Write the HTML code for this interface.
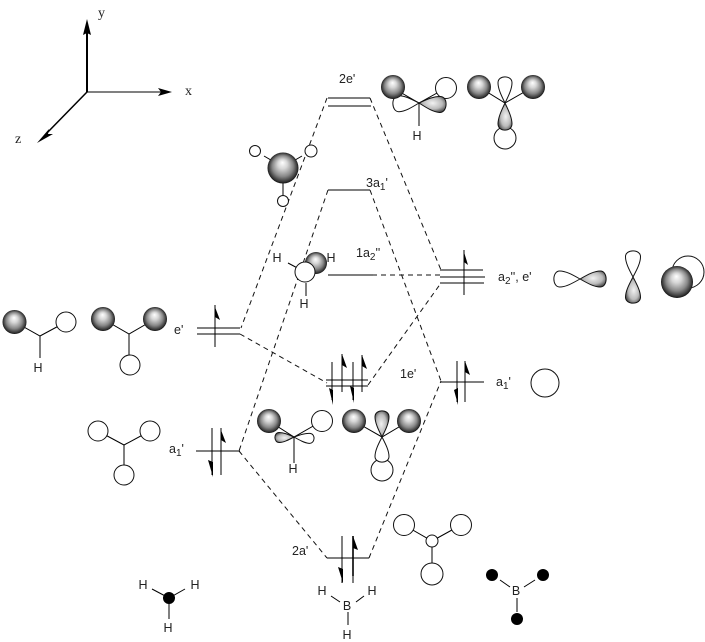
<!DOCTYPE html>
<html><head><meta charset="utf-8"><style>
html,body{margin:0;padding:0;background:#fff}
svg{display:block}
text{font-family:"Liberation Sans",sans-serif;font-size:12.5px;fill:#222}
.s{font-family:"Liberation Serif",serif;font-size:14px}
</style></head><body>
<svg width="705" height="642" viewBox="0 0 705 642" xmlns="http://www.w3.org/2000/svg">
<defs>
<radialGradient id="sp" cx=".5" cy=".5" r=".52" fx=".48" fy=".32"><stop offset="0" stop-color="#fff"/><stop offset=".3" stop-color="#d6d6d6"/><stop offset=".65" stop-color="#888"/><stop offset=".9" stop-color="#333"/><stop offset="1" stop-color="#000"/></radialGradient>
<radialGradient id="lg" cx=".5" cy=".45" r=".6"><stop offset="0" stop-color="#f2f2f2"/><stop offset=".6" stop-color="#bbb"/><stop offset="1" stop-color="#444"/></radialGradient>
<path id="lw" vector-effect="non-scaling-stroke" fill="#fff" stroke="#111" d="M0 0C.3-.55.55-1 .78-1 1.08-1 1.08 1 .78 1 .55 1 .3.55 0 0Z"/>
<path id="ls" vector-effect="non-scaling-stroke" fill="url(#lg)" stroke="#111" d="M0 0C.3-.55.55-1 .78-1 1.08-1 1.08 1 .78 1 .55 1 .3.55 0 0Z"/>
</defs>

<!-- axes -->
<g stroke="#000" fill="none">
<path d="M87 92V28" stroke-width="2"/>
<path d="M87 92H165"/>
<path d="M87 92L45 135" stroke-width="1.5"/>
</g>
<path d="M87 19L91 35 87 33 83 35Z M172 92L158 88 161 92 158 96Z M37 143L49 129 48 134 53 134Z" fill="#000"/>
<text class="s" x="98" y="17">y</text><text class="s" x="185" y="95">x</text><text class="s" x="15" y="143">z</text>

<!-- dashed connectors -->
<g stroke="#111" fill="none" stroke-dasharray="5 4">
<path d="M327 98L241 328"/>
<path d="M370 98L441 270"/>
<path d="M328 190L239 451"/>
<path d="M370 190L441 381"/>
<path d="M372 275H440"/>
<path d="M240 334L327 383"/>
<path d="M368 385L441 283"/>
<path d="M239 451L327 558"/>
<path d="M369 558L441 381"/>
</g>

<!-- levels -->
<g stroke="#000" fill="none">
<path d="M328 98H370M328 106H371"/>
<path d="M328 190H370"/>
<path d="M328 275H373"/>
<path d="M440 270H483M440 277H485M440 283H484M464 250V295"/>
<path d="M197 328H240M197 334H240M215 305V347"/>
<path d="M326 380H368M326 386H368M332 362V400M342 354V392M353 362V400M362 355V392"/>
<path d="M441 382H484M457 361V402M465 361V402"/>
<path d="M196 451H240M212 428V475M221 428V475"/>
<path d="M327 558H369M342 536V583M353 536V583"/>
</g>
<path d="M353 536V576" stroke="#000" stroke-width="1.6"/>
<g fill="#000">
<path d="M464 252L468 265 464 262Z"/>
<path d="M215 307L220 320 215 317Z"/>
<path d="M342 354L347 368 342 365Z M362 355L367 369 362 366Z"/>
<path d="M333 405L329 388 333 390Z M354 403L350 386 354 388Z"/>
<path d="M465 361L470 375 465 372Z"/>
<path d="M458 405L454 390 458 388Z"/>
<path d="M221 430L226 443 221 440Z"/>
<path d="M213 477L208 460 213 462Z"/>
<path d="M353 536L358 550 353 548Z"/>
<path d="M343 583L338 567 343 569Z"/>
</g>

<!-- level labels -->
<text x="339" y="83">2e'</text>
<text x="366" y="187">3a<tspan font-size="10" dy="3">1</tspan><tspan dy="-3">'</tspan></text>
<text x="356" y="257">1a<tspan font-size="10" dy="3">2</tspan><tspan dy="-3">''</tspan></text>
<text x="498" y="281">a<tspan font-size="10" dy="3">2</tspan><tspan dy="-3">'', e'</tspan></text>
<text x="496" y="386">a<tspan font-size="10" dy="3">1</tspan><tspan dy="-3">'</tspan></text>
<text x="400" y="378">1e'</text>
<text x="174" y="334">e'</text>
<text x="169" y="453">a<tspan font-size="10" dy="3">1</tspan><tspan dy="-3">'</tspan></text>
<text x="292" y="555">2a'</text>

<g stroke="#000" fill="none">
<path d="M393 88L419 103L446 88M419 103V126"/>
<path d="M479 87L505 103L533 87"/>
<path d="M505 103V130"/>
<path d="M264 156L283 167L302 156M283 167V195"/>
<path d="M288 263L305 272M306 283V296"/>
<path d="M15 322L40 336L66 322M40 336V358"/>
<path d="M103 319L129 334L155 319M129 334V360"/>
<path d="M98 431L124 445L150 431M124 445V475"/>
<path d="M269 421L294 437L322 421M294 437V463"/>
<path d="M354 421L382 437L409 421"/>
<path d="M404 525L432 541L461 525M432 541V574"/>
<path d="M152 589L169 598L185 589M169 598V619"/>
<path d="M331 596L340 602M364 596L356 602M348 612V625"/>
<path d="M500 580L510 587M535 580L524 587M517 598V612"/>
</g>

<!-- top orbital 1 -->
<use href="#lw" transform="translate(419 103) rotate(178) scale(26 8)"/>
<circle cx="393" cy="87" r="12" fill="url(#sp)"/>
<circle cx="446" cy="88" r="10.5" fill="#fff" stroke="#111"/>
<use href="#ls" transform="translate(419 103) rotate(4) scale(27 8)"/>
<!-- top orbital 2 -->
<circle cx="479" cy="87" r="12" fill="url(#sp)"/>
<circle cx="533" cy="87" r="12" fill="url(#sp)"/>
<circle cx="505" cy="138" r="11" fill="#fff" stroke="#111"/>
<use href="#lw" transform="translate(505 103) rotate(-90) scale(26 7)"/>
<use href="#ls" transform="translate(505 103) rotate(90) scale(27 7)"/>

<!-- big sphere -->
<circle cx="255" cy="151" r="5.5" fill="#fff" stroke="#111"/>
<circle cx="311" cy="151" r="6" fill="#fff" stroke="#111"/>
<circle cx="283" cy="201" r="5.5" fill="#fff" stroke="#111"/>
<circle cx="283" cy="168" r="15.5" fill="url(#sp)"/>

<!-- 3a1 sphere -->
<circle cx="316" cy="263" r="11" fill="url(#sp)"/>
<circle cx="305" cy="272" r="10" fill="#fff" stroke="#111"/>

<!-- left e' -->
<circle cx="14.5" cy="322" r="12" fill="url(#sp)"/>
<circle cx="66" cy="322" r="10" fill="#fff" stroke="#111"/>
<circle cx="103" cy="319" r="12" fill="url(#sp)"/>
<circle cx="155" cy="319" r="12" fill="url(#sp)"/>
<circle cx="130" cy="365" r="10" fill="#fff" stroke="#111"/>
<circle cx="98" cy="431" r="10" fill="#fff" stroke="#111"/>
<circle cx="150" cy="431" r="10" fill="#fff" stroke="#111"/>
<circle cx="124" cy="475" r="10" fill="#fff" stroke="#111"/>

<!-- middle orbitals -->
<circle cx="269" cy="421" r="12" fill="url(#sp)"/>
<circle cx="322" cy="421" r="10.5" fill="#fff" stroke="#111"/>
<use href="#lw" transform="translate(294 437) rotate(5) scale(20 5)"/>
<use href="#ls" transform="translate(294 437) rotate(178) scale(19 5)"/>
<circle cx="354" cy="421" r="12" fill="url(#sp)"/>
<circle cx="409" cy="421" r="12" fill="url(#sp)"/>
<circle cx="382" cy="470" r="11" fill="#fff" stroke="#111"/>
<use href="#lw" transform="translate(382 437) rotate(90) scale(25 7)"/>
<use href="#ls" transform="translate(382 437) rotate(-90) scale(26 7)"/>

<!-- right orbitals -->
<use href="#lw" transform="translate(580 279) rotate(180) scale(26 8)"/>
<use href="#ls" transform="translate(580 279) scale(26 8)"/>
<use href="#lw" transform="translate(633 277) rotate(-90) scale(26 7.5)"/>
<use href="#ls" transform="translate(633 277) rotate(90) scale(26 7.5)"/>
<circle cx="688" cy="272" r="16" fill="#fff" stroke="#111"/>
<circle cx="677" cy="282" r="16" fill="url(#sp)"/>
<circle cx="545" cy="383" r="14" fill="#fff" stroke="#111"/>

<!-- 2a' orbital -->
<circle cx="404" cy="525" r="10.5" fill="#fff" stroke="#111"/>
<circle cx="461" cy="525" r="10.5" fill="#fff" stroke="#111"/>
<circle cx="432" cy="574" r="11" fill="#fff" stroke="#111"/>
<circle cx="432" cy="541" r="6" fill="#fff" stroke="#111"/>

<!-- black dots -->
<circle cx="169" cy="598" r="6" fill="#000"/>
<circle cx="492" cy="575" r="6" fill="#000"/>
<circle cx="543" cy="575" r="6" fill="#000"/>
<circle cx="517" cy="619" r="6" fill="#000"/>

<!-- atom labels -->
<g text-anchor="middle">
<text x="417" y="140">H</text>
<text x="277" y="262">H</text><text x="331" y="262">H</text><text x="304" y="308">H</text>
<text x="38" y="372">H</text>
<text x="293" y="473">H</text>
<text x="143" y="589">H</text><text x="195" y="589">H</text><text x="168" y="632">H</text>
<text x="322" y="595">H</text><text x="372" y="595">H</text><text x="347" y="610">B</text><text x="347" y="639">H</text>
<text x="516" y="595">B</text>
</g>
</svg>
</body></html>
